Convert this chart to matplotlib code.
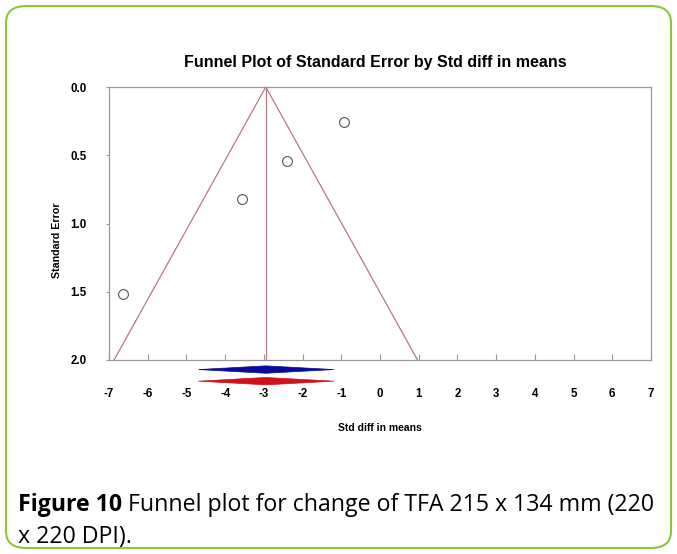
import matplotlib
matplotlib.use("Agg")
import matplotlib.pyplot as plt
from matplotlib.patches import FancyBboxPatch, Polygon

# Data
effects = [-6.64, -3.57, -2.39, -0.94]
std_errors = [1.52, 0.82, 0.54, 0.26]
pooled_mean = -2.95
pooled_ci = [-4.69, -1.19]
adjusted_mean = -2.95
adjusted_ci = [-4.69, -1.19]
x_ticks = [-7, -6, -5, -4, -3, -2, -1, 0, 1, 2, 3, 4, 5, 6, 7]
y_ticks = [0.0, 0.5, 1.0, 1.5, 2.0]

W, H = 677, 554
fig = plt.figure(figsize=(W / 100, H / 100), dpi=100)

# green rounded border
border = FancyBboxPatch((6 / W, 6 / H), (W - 12) / W, (H - 12) / H,
                        boxstyle="round,pad=0,rounding_size=0.03",
                        transform=fig.transFigure, fill=False,
                        edgecolor="#8cc63e", linewidth=1.5)
fig.patches.append(border)

ax_l, ax_r, ax_t, ax_b = 109, 651, 87, 360
ax = fig.add_axes([ax_l / W, 1 - ax_b / H, (ax_r - ax_l) / W, (ax_b - ax_t) / H])

ax.set_xlim(-7.0, 7.0)
ax.set_ylim(2.0, 0.0)

funnel_color = "#b57a7f"
se_max = 2.0
ax.plot([pooled_mean - 1.96 * se_max, pooled_mean, pooled_mean + 1.96 * se_max],
        [se_max, 0, se_max], color=funnel_color, lw=0.9, clip_on=False)
ax.plot([pooled_mean, pooled_mean], [0, se_max], color=funnel_color, lw=0.9)

ax.scatter(effects, std_errors, s=50, facecolors="white", edgecolors="#555555",
           linewidths=0.8, zorder=3)

# diamonds below axis
def diamond(mean, ci, yc, color):
    hh = 0.027
    pts = [(ci[0], yc), (mean, yc - hh), (ci[1], yc), (mean, yc + hh)]
    ax.add_patch(Polygon(pts, closed=True, facecolor=color, edgecolor=color,
                         clip_on=False, lw=0.5))

diamond(pooled_mean, pooled_ci, 2.07, "#0a0a9a")
diamond(adjusted_mean, adjusted_ci, 2.155, "#d0101a")

for s in ax.spines.values():
    s.set_color("#999999")
    s.set_linewidth(0.9)

font = "Liberation Sans"
ax.set_xticks(x_ticks)
ax.set_xticklabels([str(t) for t in x_ticks], fontfamily=font, fontweight="bold", fontsize=8.3)
ax.set_yticks(y_ticks)
ax.set_yticklabels([f"{t:.1f}" for t in y_ticks], fontfamily=font, fontweight="bold", fontsize=8.3)
ax.tick_params(axis="x", direction="in", length=4, color="#999999", pad=20)
ax.tick_params(axis="y", direction="out", length=2, color="#999999", pad=14)

ax.set_xlabel("Std diff in means", fontfamily=font, fontweight="bold", fontsize=7.5)
ax.set_ylabel("Standard Error", fontfamily=font, fontweight="bold", fontsize=7.7)
ax.xaxis.set_label_coords((380 - ax_l) / (ax_r - ax_l), (ax_b - 428) / (ax_b - ax_t))
ax.yaxis.set_label_coords((57 - ax_l) / (ax_r - ax_l), (ax_b - 240) / (ax_b - ax_t))
ax.xaxis.label.set_va("center")
ax.yaxis.label.set_va("center")

fig.text(375 / W, 1 - 62 / H, "Funnel Plot of Standard Error by Std diff in means",
         ha="center", va="center", fontfamily=font, fontweight="bold", fontsize=11.5)

cap_font = "Open Sans"
cap_size = 16.7
t1 = fig.text(18 / W, 1 - 505 / H, "Figure 10", ha="left", va="center",
              fontfamily=cap_font, fontweight="bold", fontsize=cap_size)
fig.canvas.draw()
bb = t1.get_window_extent()
fig.text(bb.x1 / W + 6 / W, 1 - 505 / H, "Funnel plot for change of TFA 215 x 134 mm (220",
         ha="left", va="center", fontfamily=cap_font, fontsize=cap_size)
fig.text(18 / W, 1 - 537 / H, "x 220 DPI).", ha="left", va="center",
         fontfamily=cap_font, fontsize=cap_size)

fig.savefig("out.png", dpi=100)
